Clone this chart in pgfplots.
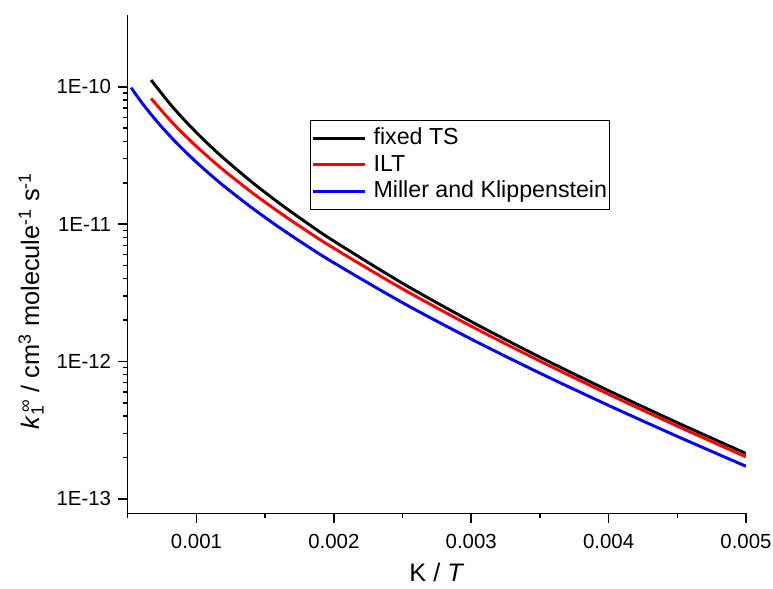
\documentclass[border=0pt]{standalone}
\usepackage{pgfplots}
\pgfplotsset{compat=1.18}
\usepackage{fontspec}
\setmainfont{Liberation Sans}
\begin{document}
\begin{tikzpicture}
\begin{axis}[
  scale only axis,
  width=463.5pt, height=373.5pt,
  axis lines*=left,
  axis line style={line width=1.1pt},
  ymode=log,
  xmin=0.0005, xmax=0.005,
  ymin=7.85e-14, ymax=3.33e-10,
  scaled x ticks=false,
  xtick={0.001,0.002,0.003,0.004,0.005},
  xticklabels={0.001,0.002,0.003,0.004,0.005},
  minor xtick={0.0005,0.0015,0.0025,0.0035,0.0045},
  ytick={1e-13,1e-12,1e-11,1e-10},
  yticklabels={1E-13,1E-12,1E-11,1E-10},
  tick align=outside,
  major tick length=7pt,
  minor tick length=3.75pt,
  every tick/.style={line width=1.1pt, black},
  tick label style={font=\fontsize{15.3}{18}\selectfont},
  xticklabel style={yshift=-5pt},
  yticklabel style={xshift=-2pt},
  /pgf/number format/assume math mode=true,
  every axis x label/.style={at={(axis description cs:0.5,0)}, anchor=base, yshift=-51pt,
    font=\fontsize{19}{22}\selectfont},
  every axis y label/.style={at={(axis description cs:-0.1565,0.426)}, anchor=center, rotate=90,
    font=\fontsize{19}{22}\selectfont},
  xlabel={K / \textit{T}},
  ylabel={\textit{k}\rlap{\textsubscript{1}}\textsuperscript{\,∞} / cm\textsuperscript{3} molecule\textsuperscript{-1} s\textsuperscript{-1}},
  legend style={at={(axis description cs:0.295,0.79)}, anchor=north west,
    draw=black, line width=0.75pt, inner xsep=1pt, inner ysep=4pt,
    font=\fontsize{17.4}{19}\selectfont, row sep=0pt,
    nodes={inner sep=1pt, text height=13.5pt, text depth=4.2pt}},
  legend cell align=left,
  legend image code/.code={\draw[#1, line width=2.2pt] (0pt,0pt) -- (39pt,0pt); \path (43pt,0pt);},
]
\addplot[black, line width=2.2pt, smooth] coordinates {
(0.00067,1.119e-10) (0.0008,7.662e-11) (0.0009,5.904e-11) (0.001,4.642e-11)
(0.0011,3.711e-11) (0.0012,3.004e-11) (0.0014,2.036e-11) (0.0016,1.427e-11)
(0.0018,1.026e-11) (0.002,7.527e-12) (0.0025,3.707e-12) (0.003,1.952e-12)
(0.0035,1.075e-12) (0.004,6.128e-13) (0.0045,3.584e-13) (0.005,2.138e-13)};
\addlegendentry{fixed TS}
\addplot[red, line width=2.2pt, smooth] coordinates {
(0.00067,8.22e-11) (0.0008,5.829e-11) (0.0009,4.592e-11) (0.001,3.681e-11)
(0.0011,2.993e-11) (0.0012,2.461e-11) (0.0014,1.711e-11) (0.0016,1.225e-11)
(0.0018,8.966e-12) (0.002,6.673e-12) (0.0025,3.375e-12) (0.003,1.807e-12)
(0.0035,1.007e-12) (0.004,5.774e-13) (0.0045,3.385e-13) (0.005,2.019e-13)};
\addlegendentry{ILT}
\addplot[blue, line width=2.2pt, smooth] coordinates {
(0.000525,9.84e-11) (0.0006,7.718e-11) (0.0007,5.781e-11) (0.0008,4.459e-11)
(0.0009,3.517e-11) (0.001,2.822e-11) (0.0011,2.298e-11) (0.0012,1.893e-11)
(0.0014,1.322e-11) (0.0016,9.504e-12) (0.0018,6.987e-12) (0.002,5.228e-12)
(0.0025,2.678e-12) (0.003,1.455e-12) (0.0035,8.222e-13) (0.004,4.786e-13)
(0.0045,2.848e-13) (0.005,1.725e-13)};
\addlegendentry{Miller and Klippenstein}
\end{axis}
\pgfresetboundingbox
\path (current axis.south west) ++(-95.775pt,-56.25pt) coordinate (bbsw);
\path (current axis.north east) ++(20.25pt,11.25pt) coordinate (bbne);
\path (bbsw) rectangle (bbne);
\end{tikzpicture}
\end{document}
